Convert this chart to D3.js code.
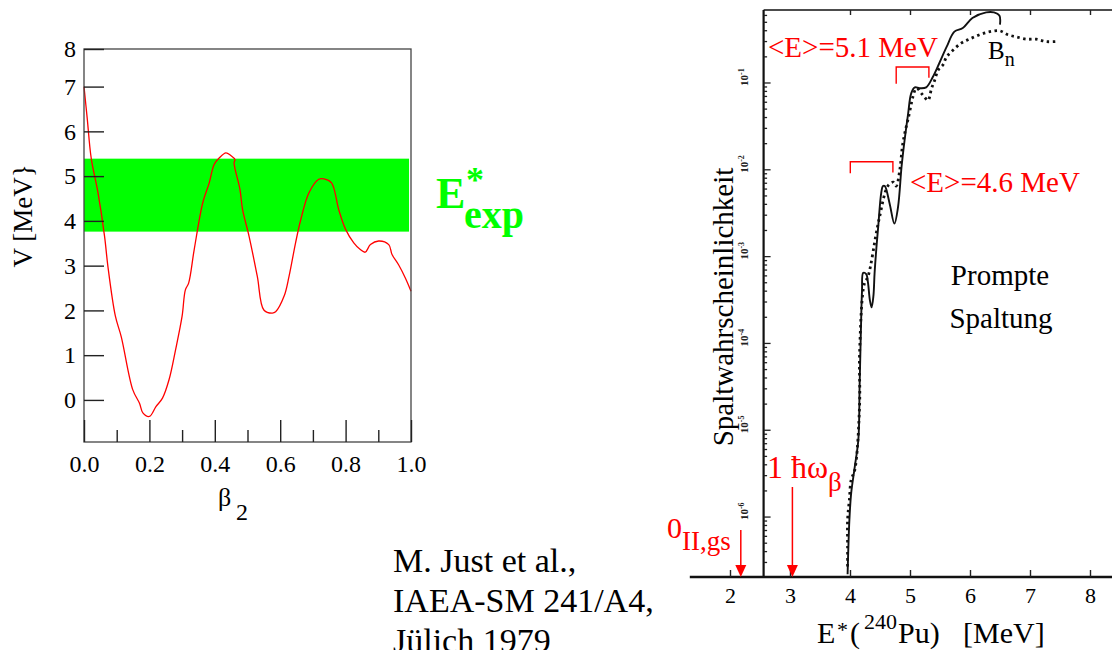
<!DOCTYPE html>
<html>
<head>
<meta charset="utf-8">
<script src="https://cdn.jsdelivr.net/npm/d3@7"></script>
<style>
body { margin: 0; background: #fff; }
svg { display: block; font-family: "Liberation Serif", "Times New Roman", serif; }
</style>
</head>
<body>
<div id="chart"></div>
<script>
// ---- left panel: fission barrier V(beta2) ----
const beta = [0, 0.01, 0.022, 0.043, 0.063, 0.073, 0.096, 0.114, 0.149, 0.17, 0.18, 0.2, 0.22, 0.24, 0.26, 0.28, 0.30, 0.31, 0.32, 0.337, 0.363, 0.383, 0.398, 0.414, 0.434, 0.449, 0.462, 0.459, 0.477, 0.485, 0.505, 0.53, 0.55, 0.576, 0.586, 0.612, 0.627, 0.647, 0.663, 0.688, 0.718, 0.734, 0.757, 0.779, 0.80, 0.825, 0.845, 0.86, 0.876, 0.901, 0.932, 0.942, 0.962, 0.983, 1.0]
const potV = [7.0, 6.28, 5.40, 4.62, 3.65, 2.99, 1.87, 1.41, 0.23, -0.08, -0.29, -0.37, -0.15, 0.04, 0.45, 1.12, 1.87, 2.46, 2.61, 3.36, 4.40, 4.85, 5.26, 5.41, 5.52, 5.46, 5.37, 5.30, 4.70, 4.25, 3.65, 2.76, 2.01, 1.94, 1.97, 2.32, 2.76, 3.51, 4.03, 4.63, 4.93, 4.94, 4.85, 4.25, 3.81, 3.51, 3.36, 3.30, 3.47, 3.55, 3.47, 3.25, 3.02, 2.72, 2.43]
const eexpBand = [3.76, 5.39]
const vTicks = [0, 1, 2, 3, 4, 5, 6, 7, 8]
const betaMajor = [0, 0.2, 0.4, 0.6, 0.8, 1.0]
const betaMinor = [0.1, 0.3, 0.5, 0.7, 0.9]

// ---- right panel: fission probability of 240Pu ----
const eSolid = [3.96, 3.99, 4.02, 4.08, 4.14, 4.16, 4.18, 4.20, 4.22, 4.27, 4.30, 4.33, 4.36, 4.39, 4.41, 4.44, 4.47, 4.52, 4.55, 4.58, 4.66, 4.74, 4.80, 4.86, 4.91, 4.97, 5.02, 5.08, 5.16, 5.27, 5.38, 5.49, 5.61, 5.74, 5.88, 6.04, 6.27, 6.40, 6.49, 6.50]
const pSolid = [2.2e-7, 9.3e-7, 1.9e-6, 3.8e-6, 7.9e-6, 3.2e-5, 1.26e-4, 4.0e-4, 6.5e-4, 6.3e-4, 5.0e-4, 3.2e-4, 2.6e-4, 3.5e-4, 6.5e-4, 1.26e-3, 2.2e-3, 5.4e-3, 6.5e-3, 6.5e-3, 4.1e-3, 2.4e-3, 3.7e-3, 0.011, 0.022, 0.045, 0.076, 0.089, 0.087, 0.089, 0.117, 0.17, 0.26, 0.39, 0.43, 0.56, 0.65, 0.65, 0.60, 0.47]
const eDots = [3.96, 3.96, 3.96, 3.99, 4.02, 4.08, 4.16, 4.16, 4.24, 4.30, 4.44, 4.49, 4.63, 4.72, 4.77, 4.83, 4.88, 4.97, 5.11, 5.19, 5.24, 5.30, 5.36, 5.41, 5.47, 5.55, 5.61, 5.72, 5.86, 5.99, 6.16, 6.33, 6.49, 6.63, 6.77, 6.94, 7.10, 7.27, 7.44]
const pDots = [2.7e-7, 4.6e-7, 9.3e-7, 1.6e-6, 2.7e-6, 3.5e-6, 2.0e-5, 7.8e-5, 4.9e-4, 5.9e-4, 1.9e-3, 2.8e-3, 6.5e-3, 7.2e-3, 6.5e-3, 0.010, 0.020, 0.039, 0.087, 0.076, 0.069, 0.063, 0.087, 0.107, 0.141, 0.162, 0.20, 0.24, 0.29, 0.32, 0.36, 0.39, 0.40, 0.36, 0.34, 0.32, 0.32, 0.30, 0.30]
const eTicks = [2, 3, 4, 5, 6, 7, 8]
const pDecades = [1e-1, 1e-2, 1e-3, 1e-4, 1e-5, 1e-6]
const decadeExp = ["-1", "-2", "-3", "-4", "-5", "-6"]
const bracket51 = [4.77, 5.315, 0.153, 0.098, 0.115]   // E from, E to, top, left foot, right foot
const bracket46 = [4.005, 4.715, 0.0124, 0.0091, 0.0093]
const eGround = 2.18, eOmega = 3.04

const svg = d3.select("#chart").append("svg")
  .attr("width", 1112).attr("height", 650)

// ================= left panel =================
const xL = d3.scaleLinear().domain([0, 1]).range([84, 411])
const yL = d3.scaleLinear().domain([-0.94, 7.84]).range([442, 49]).clamp(true)

svg.append("rect")
  .attr("x", xL(0)).attr("y", yL(eexpBand[1]))
  .attr("width", xL(0.994) - xL(0))
  .attr("height", yL(eexpBand[0]) - yL(eexpBand[1]))
  .attr("fill", "#00ff00")

const vLine = d3.line()
  .x((d, i) => xL(beta[i]))
  .y((d, i) => yL(potV[i]))
  .curve(d3.curveCatmullRom.alpha(0.5))

svg.append("path")
  .attr("d", vLine(beta))
  .attr("fill", "none").attr("stroke", "#ff0000").attr("stroke-width", 1.3)

svg.append("rect")
  .attr("x", xL(0)).attr("y", yL(8))
  .attr("width", xL(1) - xL(0)).attr("height", yL(-0.94) - yL(8))
  .attr("fill", "none").attr("stroke", "#444").attr("stroke-width", 1.3)

let gy = svg.append("g")
  .attr("transform", "translate(" + xL(0) + ",0)")
  .call(d3.axisLeft(yL).tickValues(vTicks).tickSize(-20).tickPadding(8))
gy.select(".domain").remove()

let gx = svg.append("g")
  .attr("transform", "translate(0," + yL(-0.94) + ")")
  .call(d3.axisBottom(xL).tickValues(betaMajor).tickSize(-22).tickPadding(13).tickFormat(d3.format(".1f")))
gx.select(".domain").remove()

let gxm = svg.append("g")
  .attr("transform", "translate(0," + yL(-0.94) + ")")
  .call(d3.axisBottom(xL).tickValues(betaMinor).tickSize(-12).tickFormat(""))
gxm.select(".domain").remove()

svg.selectAll("g").attr("font-family", null)
;[gy, gx, gxm].forEach(g => {
  g.selectAll("line").attr("stroke", "#222").attr("stroke-width", 1.4)
  g.selectAll("text").attr("font-size", 24).attr("fill", "#000")
    .attr("font-family", '"Liberation Serif", serif')
})

svg.append("text")
  .attr("transform", "translate(32,216) rotate(-90)")
  .attr("text-anchor", "middle").attr("font-size", 27)
  .text("V [MeV}")

let bt = svg.append("text").attr("x", 218).attr("y", 506).attr("font-size", 26)
bt.append("tspan").text("β")
bt.append("tspan").attr("x", 236).attr("dy", 14).attr("font-size", 24).text("2")

let ex = svg.append("text").attr("fill", "#00ff00").attr("font-weight", "bold")
ex.append("tspan").attr("x", 436).attr("y", 208).attr("font-size", 44).text("E")
ex.append("tspan").attr("x", 466).attr("y", 192).attr("font-size", 36).text("*")
ex.append("tspan").attr("x", 464).attr("y", 228).attr("font-size", 40).text("exp")

// ================= right panel =================
const xR = d3.scaleLinear().domain([2, 8]).range([730, 1090])
const yR = d3.scaleLog().domain([2.04e-7, 0.693]).range([577, 10])
const eFrame = 2.56

const solidLine = d3.line()
  .x((d, i) => xR(eSolid[i]))
  .y((d, i) => yR(pSolid[i]))
  .curve(d3.curveCatmullRom.alpha(0.5))
const dotLine = d3.line()
  .x((d, i) => xR(eDots[i]))
  .y((d, i) => yR(pDots[i]))
  .curve(d3.curveCatmullRom.alpha(0.5))

svg.append("path").attr("d", dotLine(eDots))
  .attr("fill", "none").attr("stroke", "#111").attr("stroke-width", 2.8)
  .attr("stroke-dasharray", "2.5,3.5")
svg.append("path").attr("d", solidLine(eSolid))
  .attr("fill", "none").attr("stroke", "#111").attr("stroke-width", 1.9)

// frame (left + top), bottom axis line
svg.append("line")
  .attr("x1", xR(eFrame)).attr("x2", xR(eFrame))
  .attr("y1", yR.range()[1]).attr("y2", yR.range()[0])
  .attr("stroke", "#111").attr("stroke-width", 2.2)
svg.append("line")
  .attr("x1", xR(eFrame)).attr("x2", 1112)
  .attr("y1", yR.range()[1]).attr("y2", yR.range()[1])
  .attr("stroke", "#111").attr("stroke-width", 1.6)
svg.append("line")
  .attr("x1", xR(1.33)).attr("x2", 1112)
  .attr("y1", yR.range()[0]).attr("y2", yR.range()[0])
  .attr("stroke", "#111").attr("stroke-width", 2.4)

// log ticks on the left frame
const minor = yR.ticks()
svg.append("g").selectAll("line").data(minor).join("line")
  .attr("x1", xR(eFrame))
  .attr("x2", d => xR(eFrame) + (pDecades.some(p => Math.abs(p - d) / p < 1e-6) ? 7 : 3.5))
  .attr("y1", d => yR(d)).attr("y2", d => yR(d))
  .attr("stroke", "#222").attr("stroke-width", 1.3)

pDecades.forEach((d, i) => {
  let t = svg.append("text")
    .attr("transform", "translate(" + (xR(eFrame) - 16) + "," + (yR(d) + 3) + ") rotate(-90)")
    .attr("font-size", 11).attr("font-weight", "bold").attr("fill", "#222")
  t.append("tspan").text("10")
  t.append("tspan").attr("dy", -4).attr("font-size", 8).text(decadeExp[i])
})

let gxr = svg.append("g")
  .attr("transform", "translate(0," + yR.range()[0] + ")")
  .call(d3.axisBottom(xR).tickValues(eTicks).tickSize(-7).tickPadding(10).tickFormat(d3.format("d")))
gxr.select(".domain").remove()
gxr.attr("font-family", null)
gxr.selectAll("line").attr("stroke", "#222").attr("stroke-width", 1.4)
gxr.selectAll("text").attr("font-size", 22).attr("fill", "#000")

let gxt = svg.append("g")
  .attr("transform", "translate(0," + yR.range()[1] + ")")
  .call(d3.axisTop(xR).tickValues([4, 5, 6, 7, 8]).tickSize(-5).tickFormat(""))
gxt.select(".domain").remove()
gxt.selectAll("line").attr("stroke", "#222").attr("stroke-width", 1.4)

svg.append("text")
  .attr("transform", "translate(733,307) rotate(-90)")
  .attr("text-anchor", "middle").attr("font-size", 29)
  .text("Spaltwahrscheinlichkeit")

let xt = svg.append("text").attr("y", 643).attr("font-size", 30)
xt.append("tspan").attr("x", 817).text("E")
xt.append("tspan").attr("x", 837).attr("y", 637).attr("font-size", 22).text("*")
xt.append("tspan").attr("x", 850).attr("y", 643).text("(")
xt.append("tspan").attr("x", 864).attr("y", 629).attr("font-size", 22).text("240")
xt.append("tspan").attr("x", 898).attr("y", 643).text("Pu)")
xt.append("tspan").attr("x", 963).attr("y", 643).text("[MeV]")

svg.append("text").attr("x", 1000).attr("y", 285).attr("text-anchor", "middle")
  .attr("font-size", 29).text("Prompte")
svg.append("text").attr("x", 1001).attr("y", 328).attr("text-anchor", "middle")
  .attr("font-size", 29).text("Spaltung")

let bn = svg.append("text").attr("x", 988).attr("y", 59).attr("font-size", 25)
bn.append("tspan").text("B")
bn.append("tspan").attr("dy", 7).attr("font-size", 20).text("n")

// red annotations
const red = "#ff0000"
svg.append("text").attr("x", 768).attr("y", 57).attr("font-size", 29).attr("fill", red)
  .text("<E>=5.1 MeV")
svg.append("text").attr("x", 910).attr("y", 192).attr("font-size", 29).attr("fill", red)
  .text("<E>=4.6 MeV")

;[bracket51, bracket46].forEach(b => {
  const pts = [[xR(b[0]), yR(b[3])], [xR(b[0]), yR(b[2])], [xR(b[1]), yR(b[2])], [xR(b[1]), yR(b[4])]]
  svg.append("path").attr("d", d3.line()(pts))
    .attr("fill", "none").attr("stroke", red).attr("stroke-width", 1.4)
})

function arrow(e, yTop) {
  const x = xR(e), tip = yR.range()[0]
  svg.append("line").attr("x1", x).attr("x2", x).attr("y1", yTop).attr("y2", tip - 10)
    .attr("stroke", red).attr("stroke-width", 1.5)
  svg.append("path")
    .attr("d", "M" + (x - 5.5) + "," + (tip - 12) + "L" + (x + 5.5) + "," + (tip - 12) + "L" + x + "," + tip + "Z")
    .attr("fill", red)
}
arrow(eGround, 530)
arrow(eOmega, 487)

let g0 = svg.append("text").attr("x", 667).attr("y", 538).attr("font-size", 30).attr("fill", red)
g0.append("tspan").text("0")
g0.append("tspan").attr("dy", 12).attr("font-size", 27).text("II,gs")

let hw = svg.append("text").attr("x", 767).attr("y", 478).attr("font-size", 32).attr("fill", red)
hw.append("tspan").text("1 ħω")
hw.append("tspan").attr("dy", 13).attr("font-size", 27).text("β")

// reference
const refLines = ["M. Just et al.,", "IAEA-SM 241/A4,", "Jülich 1979"]
refLines.forEach((s, i) => {
  svg.append("text").attr("x", 393).attr("y", 572 + i * 40).attr("font-size", 34).text(s)
})
</script>
</body>
</html>
